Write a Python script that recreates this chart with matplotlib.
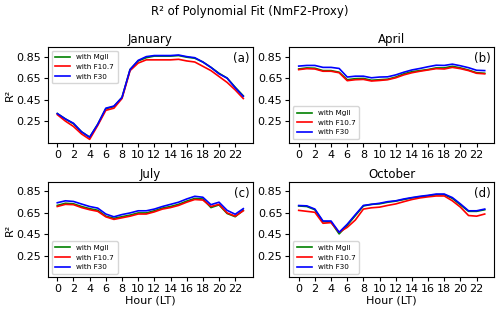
import matplotlib
matplotlib.use("Agg")
import matplotlib.pyplot as plt
import numpy as np

hours = np.arange(24)

# January
jan_mg = [0.32, 0.27, 0.225, 0.15, 0.10, 0.22, 0.365, 0.385, 0.47, 0.73, 0.81, 0.84,
          0.855, 0.855, 0.855, 0.86, 0.845, 0.835, 0.80, 0.75, 0.695, 0.65, 0.565, 0.485]
jan_f107 = [0.31, 0.25, 0.20, 0.13, 0.08, 0.21, 0.35, 0.37, 0.46, 0.72, 0.79, 0.82,
            0.82, 0.82, 0.82, 0.825, 0.81, 0.80, 0.76, 0.72, 0.665, 0.61, 0.54, 0.46]
jan_f30 = [0.32, 0.27, 0.23, 0.15, 0.10, 0.22, 0.37, 0.39, 0.47, 0.73, 0.815, 0.85,
           0.86, 0.86, 0.86, 0.865, 0.85, 0.84, 0.80, 0.75, 0.69, 0.65, 0.56, 0.48]

# April
apr_mg = [0.735, 0.745, 0.742, 0.72, 0.72, 0.705, 0.635, 0.645, 0.647, 0.63, 0.635, 0.64,
          0.66, 0.69, 0.71, 0.72, 0.73, 0.745, 0.745, 0.76, 0.745, 0.725, 0.70, 0.695]
apr_f107 = [0.729, 0.738, 0.735, 0.714, 0.714, 0.70, 0.626, 0.635, 0.638, 0.623, 0.628, 0.635,
            0.653, 0.68, 0.70, 0.714, 0.726, 0.738, 0.735, 0.75, 0.738, 0.72, 0.695, 0.69]
apr_f30 = [0.762, 0.768, 0.768, 0.75, 0.75, 0.74, 0.66, 0.668, 0.668, 0.653, 0.66, 0.662,
           0.68, 0.705, 0.726, 0.74, 0.756, 0.77, 0.768, 0.78, 0.765, 0.747, 0.723, 0.72]

# July
jul_mg = [0.72, 0.74, 0.735, 0.71, 0.69, 0.675, 0.62, 0.60, 0.615, 0.63, 0.65, 0.65,
          0.67, 0.695, 0.71, 0.73, 0.76, 0.785, 0.78, 0.70, 0.725, 0.645, 0.615, 0.675]
jul_f107 = [0.71, 0.73, 0.727, 0.70, 0.68, 0.665, 0.614, 0.59, 0.605, 0.62, 0.64, 0.64,
            0.66, 0.686, 0.70, 0.72, 0.75, 0.775, 0.77, 0.71, 0.73, 0.65, 0.62, 0.67]
jul_f30 = [0.745, 0.763, 0.757, 0.733, 0.71, 0.695, 0.64, 0.614, 0.635, 0.65, 0.67, 0.67,
           0.686, 0.71, 0.73, 0.75, 0.78, 0.805, 0.796, 0.727, 0.75, 0.674, 0.638, 0.69]

# October
oct_mg = [0.715, 0.71, 0.68, 0.57, 0.565, 0.455, 0.535, 0.625, 0.715, 0.73, 0.735, 0.75,
          0.76, 0.775, 0.79, 0.80, 0.81, 0.82, 0.82, 0.785, 0.725, 0.665, 0.665, 0.68]
oct_f107 = [0.674, 0.665, 0.656, 0.554, 0.56, 0.47, 0.516, 0.584, 0.686, 0.698, 0.704, 0.72,
            0.734, 0.755, 0.775, 0.79, 0.80, 0.808, 0.808, 0.763, 0.704, 0.626, 0.62, 0.64]
oct_f30 = [0.719, 0.716, 0.686, 0.575, 0.575, 0.47, 0.545, 0.634, 0.72, 0.73, 0.74, 0.755,
           0.763, 0.78, 0.793, 0.805, 0.814, 0.826, 0.826, 0.793, 0.734, 0.67, 0.67, 0.686]

months = ["January", "April", "July", "October"]
tags = ["(a)", "(b)", "(c)", "(d)"]
series = [(jan_mg, jan_f107, jan_f30), (apr_mg, apr_f107, apr_f30),
          (jul_mg, jul_f107, jul_f30), (oct_mg, oct_f107, oct_f30)]
legend_loc = ["upper left", "lower left", "lower left", "lower left"]

fig, axes = plt.subplots(2, 2, figsize=(5.0, 3.11), dpi=100)
fig.subplots_adjust(left=0.096, right=0.988, top=0.849, bottom=0.108, wspace=0.18, hspace=0.41)

for i, ax in enumerate(axes.flat):
    mg, f107, f30 = series[i]
    ax.plot(hours, mg, color="green", lw=1.2, label="with MgII")
    ax.plot(hours, f107, color="red", lw=1.2, label="with F10.7")
    ax.plot(hours, f30, color="blue", lw=1.2, label="with F30")
    ax.set_ylim(0.05, 0.94)
    ax.set_yticks([0.25, 0.45, 0.65, 0.85])
    ax.set_xticks(np.arange(0, 24, 2))
    ax.tick_params(labelsize=8, length=3, pad=2)
    ax.set_title(months[i], fontsize=8.5, pad=3)
    ax.text(0.985, 0.95, tags[i], transform=ax.transAxes, ha="right", va="top", fontsize=8.5)
    ax.legend(loc=legend_loc[i], fontsize=5.2, handlelength=2.1, borderpad=0.5,
              labelspacing=0.5, framealpha=0.8)
    if i % 2 == 0:
        ax.set_ylabel("R²", fontsize=8, labelpad=1)
    if i >= 2:
        ax.set_xlabel("Hour (LT)", fontsize=8, labelpad=0.5)

fig.suptitle("R² of Polynomial Fit (NmF2-Proxy)", fontsize=8.5, y=0.985)
fig.savefig("out.png", dpi=100)
